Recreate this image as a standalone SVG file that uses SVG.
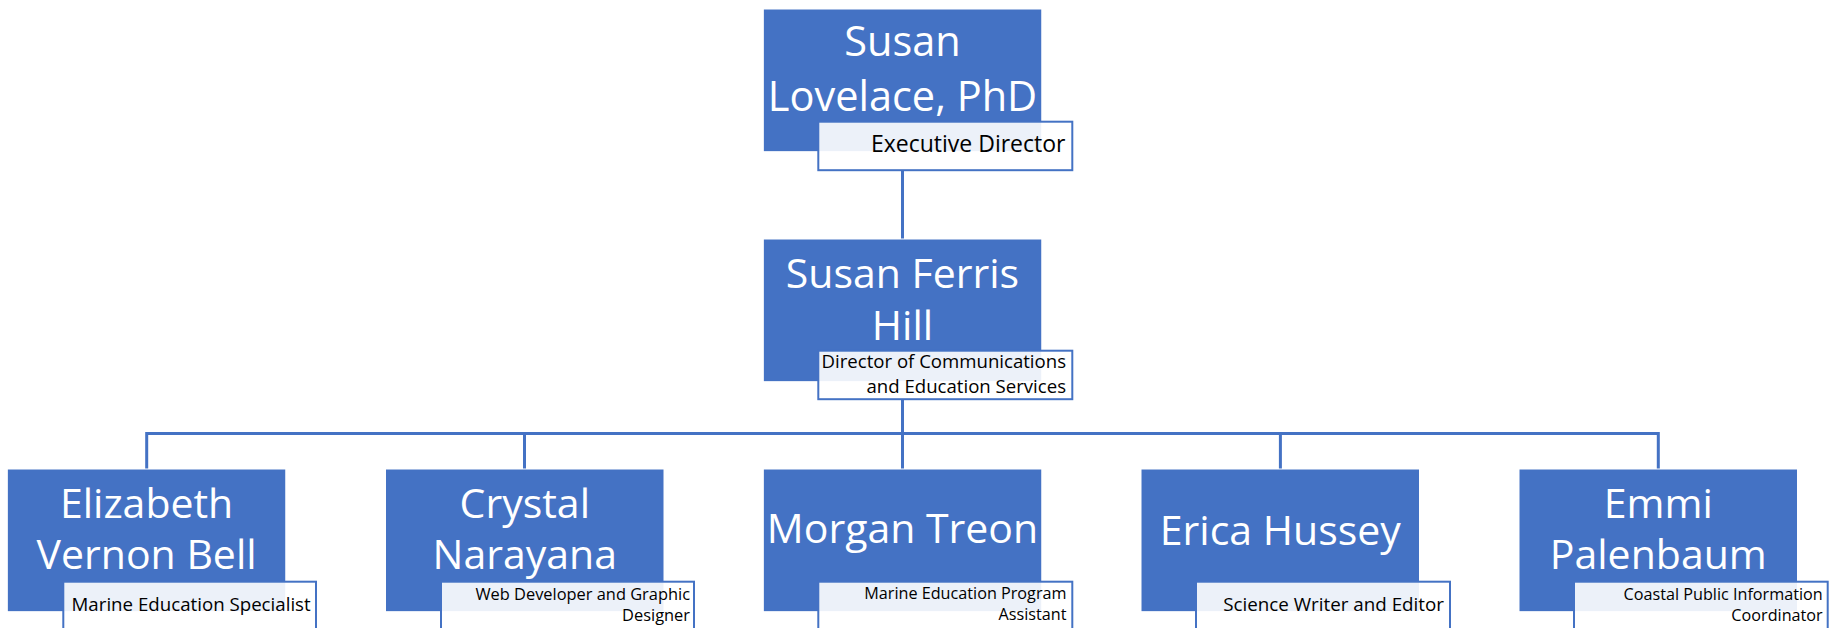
<svg xmlns="http://www.w3.org/2000/svg" width="1835" height="628" viewBox="0 0 1835 628">
<style>
.box{fill:#4472C4;stroke:#ffffff;stroke-width:1}
.sub{fill:#ffffff;fill-opacity:0.9;stroke:#4472C4;stroke-width:2}
.name{font-family:"Open Sans","Noto Sans",sans-serif;fill:#ffffff;text-anchor:middle;font-size:41px}
.title{font-family:"Open Sans","Noto Sans",sans-serif;fill:#000000;text-anchor:end}
.conn{fill:none;stroke:#4472C4;stroke-width:3}
</style>
<rect width="1835" height="628" fill="#ffffff"/>
<g id="connectors">
<path class="conn" d="M902.5 170 V239"/>
<path class="conn" d="M902.5 400 V433.5"/>
<path class="conn" d="M146.7 469 V433.5 H1658.3 V469"/>
<path class="conn" d="M524.5 433.5 V469"/>
<path class="conn" d="M902.5 433.5 V469"/>
<path class="conn" d="M1280.4 433.5 V469"/>
</g>
<g id="node-lovelace">
<rect class="box" x="763.3" y="9" width="278.5" height="142.7"/>
<text class="name" style="font-size:41.5px"><tspan x="902.5" y="56">Susan</tspan><tspan x="902.5" y="111">Lovelace, PhD</tspan></text>
<rect class="sub" x="818.3" y="121.7" width="254" height="48.5"/>
<text class="title" x="1065.5" y="152" font-size="23">Executive Director</text>
</g>
<g id="node-hill">
<rect class="box" x="763.3" y="239" width="278.5" height="142.7"/>
<text class="name"><tspan x="902.5" y="287.7">Susan Ferris</tspan><tspan x="902.5" y="340">Hill</tspan></text>
<rect class="sub" x="818.3" y="350.7" width="254" height="48.5"/>
<text class="title" font-size="18.6"><tspan x="1066" y="368.3">Director of Communications</tspan><tspan x="1066" y="392.7">and Education Services</tspan></text>
</g>
<g id="node-bell">
<rect class="box" x="7.3" y="469" width="278.5" height="142.7"/>
<text class="name"><tspan x="146.6" y="518.3">Elizabeth</tspan><tspan x="146.6" y="569.3">Vernon Bell</tspan></text>
<rect class="sub" x="63.3" y="581.7" width="252.7" height="48.5"/>
<text class="title" x="310.7" y="610.7" font-size="18.7">Marine Education Specialist</text>
</g>
<g id="node-narayana">
<rect class="box" x="385.5" y="469" width="278.5" height="142.7"/>
<text class="name"><tspan x="524.8" y="518.3">Crystal</tspan><tspan x="524.8" y="569.3">Narayana</tspan></text>
<rect class="sub" x="441" y="581.7" width="253" height="48.5"/>
<text class="title" font-size="16.4"><tspan x="690" y="600">Web Developer and Graphic</tspan><tspan x="690" y="620.7">Designer</tspan></text>
</g>
<g id="node-treon">
<rect class="box" x="763.3" y="469" width="278.5" height="142.7"/>
<text class="name" x="902.5" y="543.3">Morgan Treon</text>
<rect class="sub" x="818.3" y="581.7" width="254" height="48.5"/>
<text class="title" font-size="16.2"><tspan x="1066.5" y="599.3">Marine Education Program</tspan><tspan x="1066.5" y="620">Assistant</tspan></text>
</g>
<g id="node-hussey">
<rect class="box" x="1141" y="469" width="278.5" height="142.7"/>
<text class="name" x="1280.3" y="544.5">Erica Hussey</text>
<rect class="sub" x="1196" y="581.7" width="254" height="48.5"/>
<text class="title" x="1444" y="610.7" font-size="18.8">Science Writer and Editor</text>
</g>
<g id="node-palenbaum">
<rect class="box" x="1519" y="469" width="278.5" height="142.7"/>
<text class="name"><tspan x="1658.3" y="518.3">Emmi</tspan><tspan x="1658.3" y="569.3">Palenbaum</tspan></text>
<rect class="sub" x="1574" y="581.7" width="253.7" height="48.5"/>
<text class="title" font-size="16.2"><tspan x="1822.7" y="600">Coastal Public Information</tspan><tspan x="1822.7" y="620.7">Coordinator</tspan></text>
</g>
</svg>
